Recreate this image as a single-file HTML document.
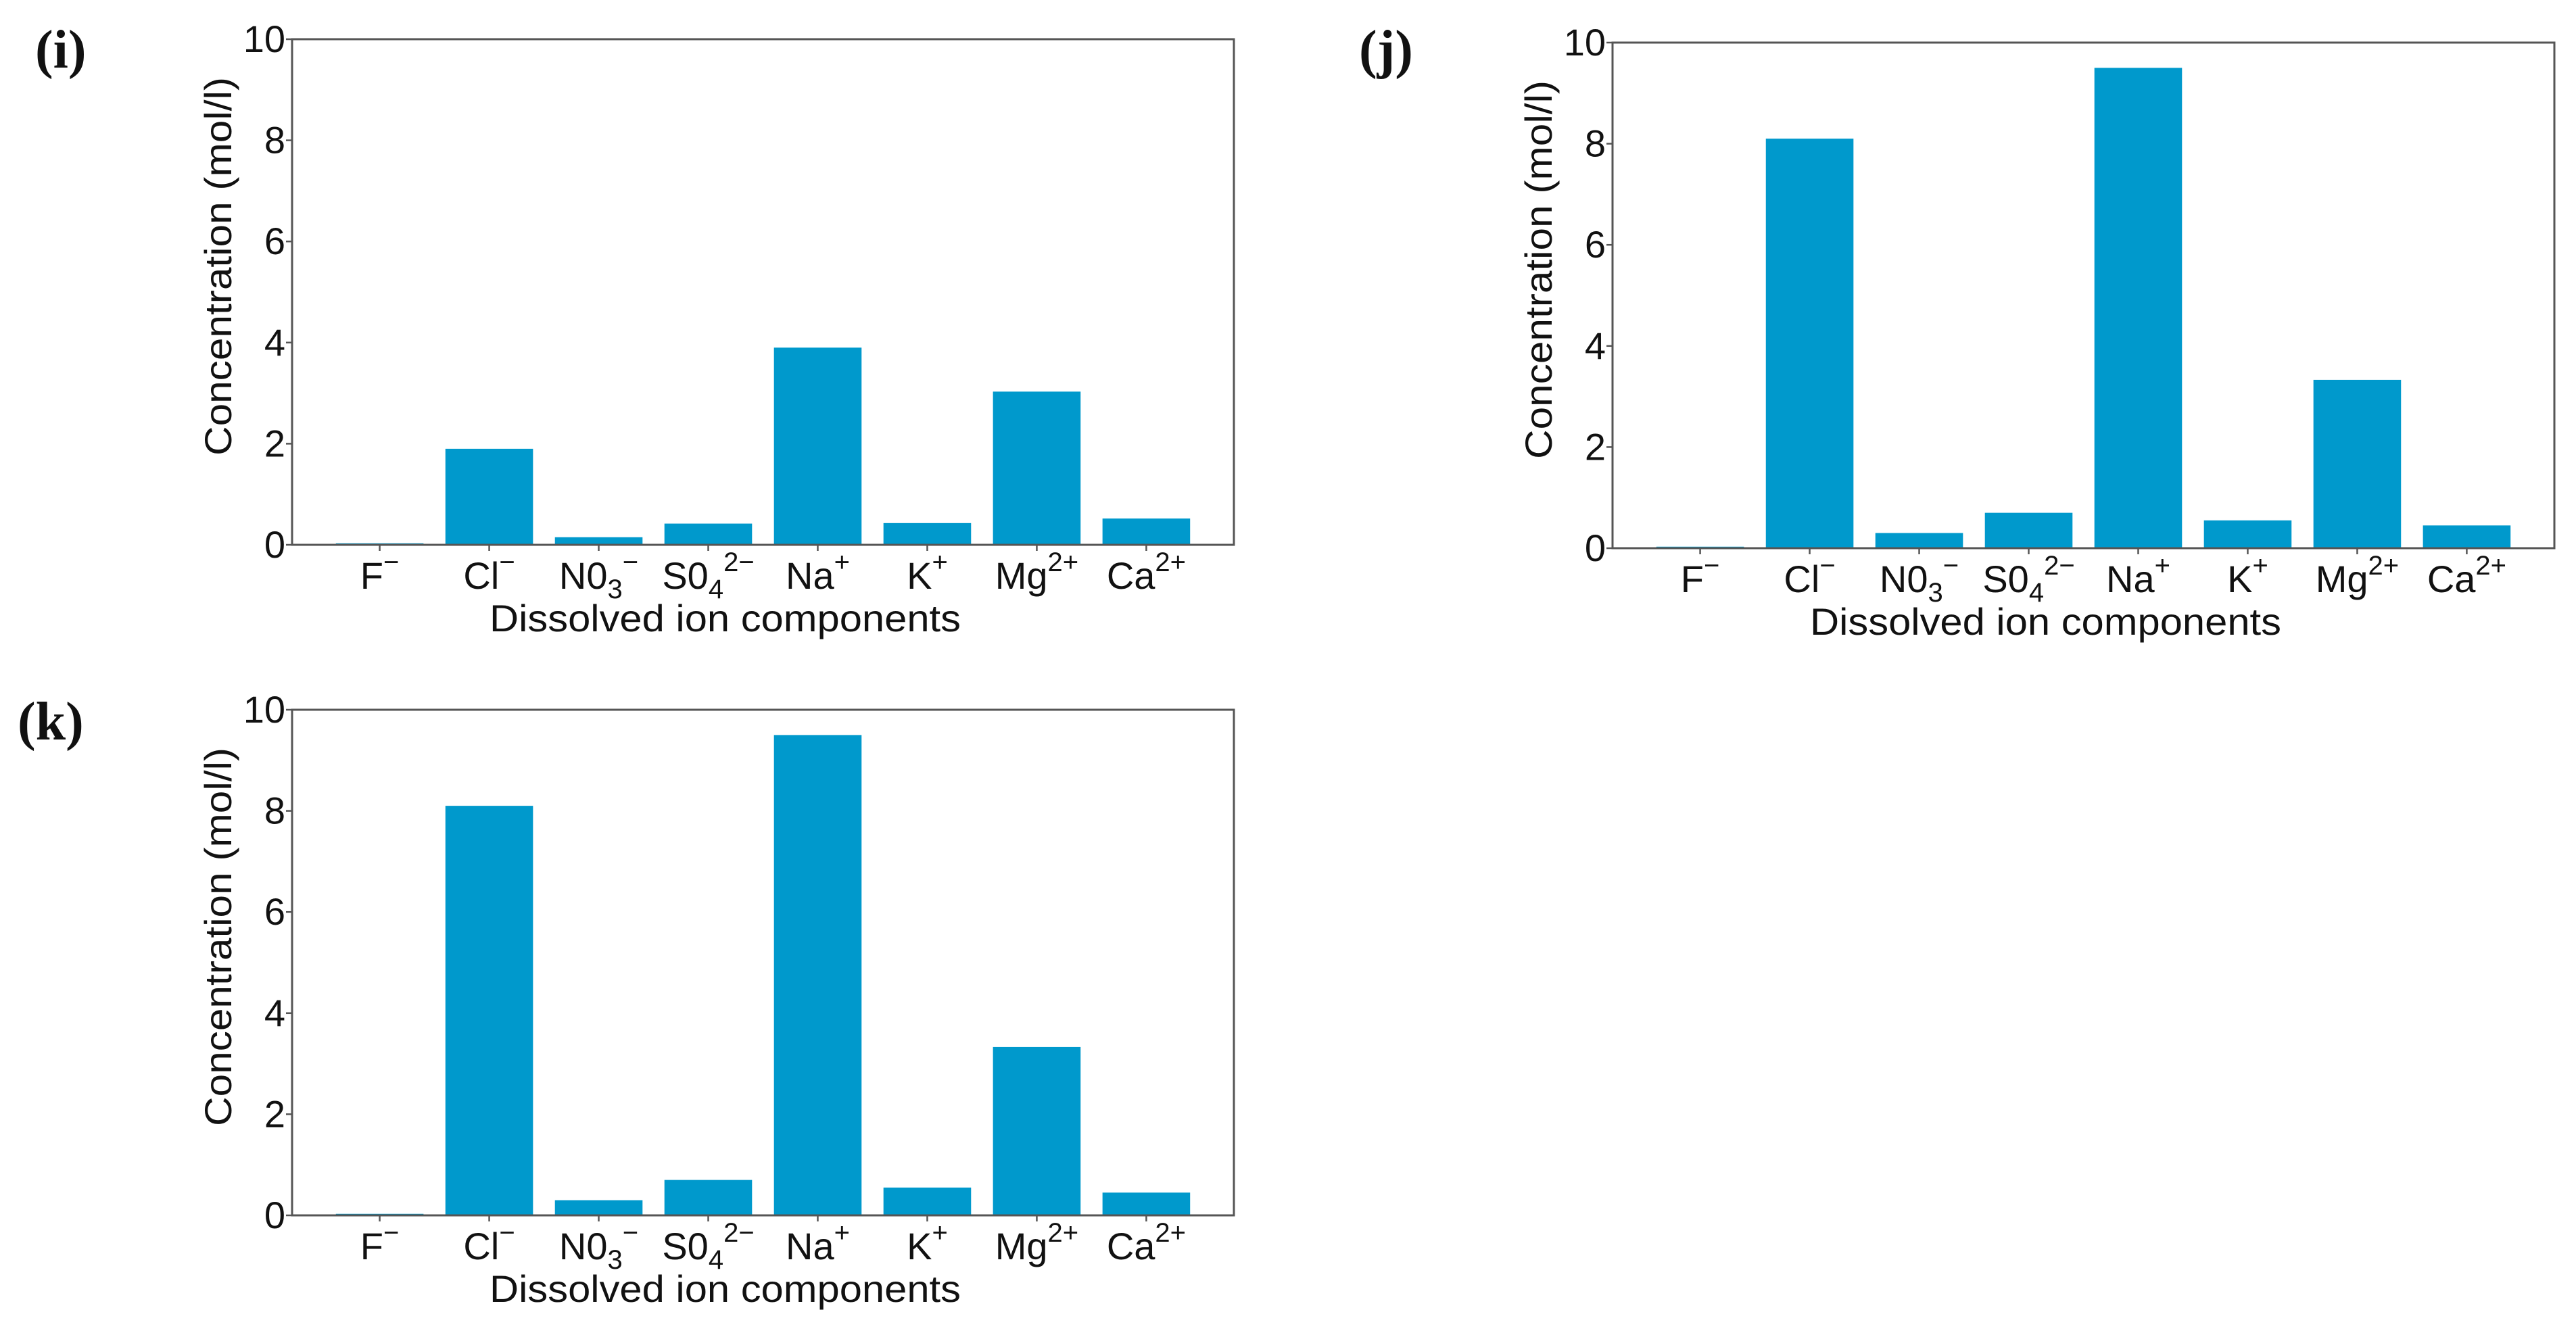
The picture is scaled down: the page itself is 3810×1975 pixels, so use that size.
<!DOCTYPE html>
<html><head><meta charset="utf-8">
<style>
html,body{margin:0;padding:0;background:#fff;}
svg{display:block;}
text{font-family:"Liberation Sans Narrow","Liberation Sans",sans-serif;fill:#111;}
.pl{font-family:"Liberation Serif",serif;font-weight:bold;}
</style></head>
<body>
<svg id="fig" width="3810" height="1975" viewBox="0 0 3810 1975" xmlns="http://www.w3.org/2000/svg"></svg>
<script>
const categories = ["F","Cl","NO3","SO4","Na","K","Mg","Ca"];
const valuesI = [0.03, 1.9, 0.15, 0.42, 3.9, 0.43, 3.03, 0.52];
const valuesJ = [0.03, 8.1, 0.3, 0.7, 9.5, 0.55, 3.33, 0.45];
const valuesK = [0.03, 8.1, 0.3, 0.7, 9.5, 0.55, 3.33, 0.45];
const yTicks = [0, 2, 4, 6, 8, 10];
const yTickLabels = ["0","2","4","6","8","10"];

const NS = "http://www.w3.org/2000/svg";
const svg = document.getElementById("fig");
function mk(tag, attrs, parent){
  const e = document.createElementNS(NS, tag);
  for (const k in attrs) e.setAttribute(k, attrs[k]);
  (parent||svg).appendChild(e);
  return e;
}
const catLabelParts = {
  F:["F","","\u2212"], Cl:["Cl","","\u2212"], NO3:["N0","3","\u2212"], SO4:["S0","4","2\u2212"],
  Na:["Na","","+"], K:["K","","+"], Mg:["Mg","","2+"], Ca:["Ca","","2+"]
};

function panel(id, letter, L, R, T, B, values, letterX, letterY){
  const g = mk("g", {});
  
  
  const xmin = -0.8, xmax = 7.8, ymin = 0, ymax = 10;
  const sx = v => L + (v - xmin) / (xmax - xmin) * (R - L);
  const sy = v => B - (v - ymin) / (ymax - ymin) * (B - T);
  const bw = 0.8;

  const lt = mk("text", {x:letterX, y:letterY, "font-size":80, class:"pl"}, g);
  lt.textContent = "(" + letter + ")";
  
  

  values.forEach((v, i) => {
    const r = mk("rect", {x:sx(i - bw/2), y:sy(v), width:sx(i + bw/2) - sx(i - bw/2), height:sy(0) - sy(v), fill:"#0099cc"}, g);
    
    
  });

  const frame = mk("rect", {x:L, y:T, width:R-L, height:B-T, fill:"none", stroke:"#555", "stroke-width":3}, g);
  
  

  yTicks.forEach((t, i) => {
    const tk = mk("line", {x1:L-9, x2:L, y1:sy(t), y2:sy(t), stroke:"#555", "stroke-width":2.5}, g);
    
    
    const tl = mk("text", {x:L-10, y:sy(t)+19, "font-size":56, "text-anchor":"end"}, g);
    tl.textContent = yTickLabels[i];
    
    
  });

  categories.forEach((c, i) => {
    const tk = mk("line", {x1:sx(i), x2:sx(i), y1:B, y2:B+9, stroke:"#555", "stroke-width":2.5}, g);
    
    
    const p = catLabelParts[c];
    const tl = mk("text", {x:sx(i), y:B+65, "font-size":56, "text-anchor":"middle"}, g);
    
    
    const t1 = mk("tspan", {}, tl); t1.textContent = p[0];
    if (p[1]) { const t2 = mk("tspan", {"font-size":40, dy:14}, tl); t2.textContent = p[1]; }
    const t3 = mk("tspan", {"font-size":40, dy: p[1] ? -40 : -26}, tl); t3.textContent = p[2];
  });

  const yl = mk("text", {x:0, y:0, "font-size":56, "text-anchor":"middle", textLength:560, lengthAdjust:"spacingAndGlyphs",
    transform:"translate(" + (L-90) + "," + (T+336) + ") rotate(-90)"}, g);
  yl.textContent = "Concentration (mol/l)";
  
  

  const xl = mk("text", {x:(L+R)/2 - 56, y:B+128, "font-size":56, "text-anchor":"middle", textLength:697, lengthAdjust:"spacingAndGlyphs"}, g);
  xl.textContent = "Dissolved ion components";
  
  
}

panel("i", "i", 432, 1825, 58, 806, valuesI, 52, 100);
panel("j", "j", 2385, 3778, 63, 811, valuesJ, 2010, 100);
panel("k", "k", 432, 1825, 1050, 1798, valuesK, 26, 1094);
</script>
</body></html>
